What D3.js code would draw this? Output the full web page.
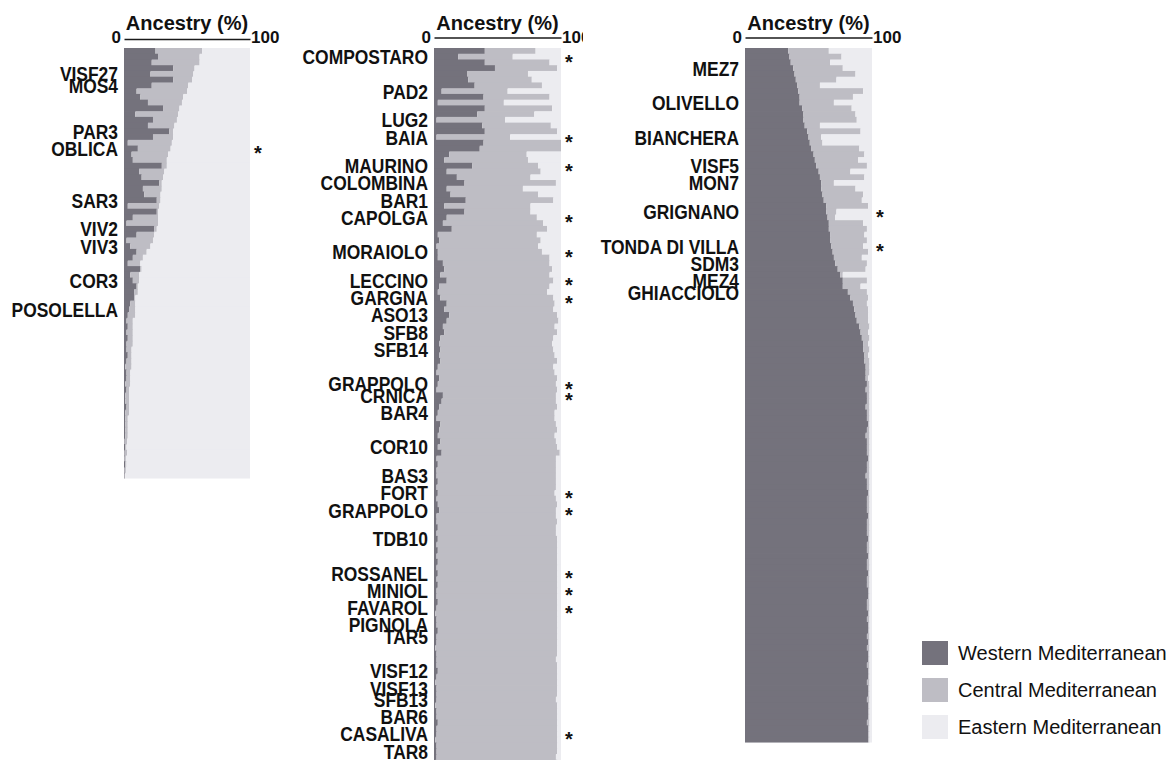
<!DOCTYPE html>
<html>
<head>
<meta charset="utf-8">
<script src="https://cdn.jsdelivr.net/npm/d3@7"></script>
<style>
  body { margin: 0; background: #ffffff; }
  svg { display: block; }
  text { font-family: "Liberation Sans", Arial, Helvetica, sans-serif; fill: #111; }
</style>
</head>
<body>
<svg id="chart" width="1172" height="760"></svg>
<script>
// ---- ancestry groups ----
const groups = ["Western Mediterranean", "Central Mediterranean", "Eastern Mediterranean"];
const groupColors = ["#74727c", "#bebdc4", "#ececf0"];

// ---- column 1: individuals sorted by Eastern ancestry (%) ----
const p1Western = [25,27,22,39,21,39,22,10,13,19,31,9,23,19,36,23,3,11,6,7,
  30,12,14,28,15,16,26,3,26,7,2,24,10,2,5,10,7,3,13,5,7,10,8,8,5,4,3,2,3,2,
  3,2,2,3,2,1,2,2,1,2,1,1,2,1,1,1,1,1,0.5,1,0.5,0.5,1,0.5,0.5];
const p1Central = [37,33,38,17,34,15,29,40,34,27,13,34,19,21,3,16,35,26,29,27,
  4,20,17,2,15,13,3,25,1,20,25,2,14,21,16,8,8,10,1,7,5,1,3,1,4,5,6,5,4,5,
  4,5,4,3,4,5,3,3,4,2,3,3,2,3,2,2,2,2,2,1,2,1,1,1,0.5];
const p1Eastern = [38,40,40,44,45,46,49,50,53,54,56,57,58,60,61,61,62,63,65,66,
  66,68,69,70,70,71,71,72,73,73,73,74,76,77,79,82,85,87,86,88,88,89,89,91,91,91,91,93,93,93,
  93,93,94,94,94,94,95,95,95,96,96,96,96,96,97,97,97,97,97.5,98,97.5,98.5,98,98.5,99];
const p1Names = ["VISF27","MOS4","PAR3","OBLICA","SAR3","VIV2","VIV3","COR3","POSOLELLA"];
const p1NameRows = [4,6,14,17,26,31,34,40,45];
const p1StarRows = [17];

// ---- column 2 ----
const p2Western = [40,19,40,48,26,27,32,6,39,3,40,34,2,38,40,2,39,36,12,8,30,10,18,
  24,10,13,25,8,24,10,7,14,3,4,2,3,3,7,8,5,10,4,3,5,10,8,12,10,7,8,5,4,5,4,5,3,2,4,
  3,2,7,6,4,3,2,5,4,3,5,3,6,2,3,2,2,3,2,3,2,3,4,2,2,3,2,3,2,3,2,3,2,3,
  2,3,2,2,3,2,1,2,2,3,2,2,1,2,2,2,3,2,1,2,2,2,1,2,2,3,2,2,1,2,2,2,1,2,2];
const p2Central = [40,43,51,49,48,50,53,52,52,52,53,45,54,54,57,58,61,64,61,66,52,74,58,
  72,60,69,69,68,52,71,79,75,78,80,80,82,88,84,85,86,84,87,86,89,85,86,85,88,88,89,89,89,89,91,92,91,93,93,
  93,95,89,90,93,92,93,91,93,92,91,94,93,94,93,94,94,93,94,92,94,94,92,94,95,93,94,94,95,94,95,94,95,94,
  95,94,95,95,94,95,96,95,95,94,95,95,96,95,94,95,94,95,96,95,95,94,96,95,95,94,95,95,96,95,95,94,96,95,95];
const p2Eastern = [20,38,9,3,26,23,15,42,9,45,7,21,44,8,3,40,0,0,27,26,18,16,24,
  4,30,18,6,24,24,19,14,11,19,16,18,15,9,9,7,9,6,9,11,6,5,6,3,2,5,3,6,7,6,5,3,6,5,3,
  4,3,4,4,3,5,5,4,3,5,4,3,1,4,4,4,4,4,4,5,4,3,4,4,3,4,4,3,3,3,3,3,3,3,
  3,3,3,3,3,3,3,3,3,3,3,3,3,3,4,3,3,3,3,3,3,4,3,3,3,3,3,3,3,3,3,4,3,3,3];
const p2Names = ["COMPOSTARO","PAD2","LUG2","BAIA","MAURINO","COLOMBINA","BAR1","CAPOLGA",
  "MORAIOLO","LECCINO","GARGNA","ASO13","SFB8","SFB14","GRAPPOLO","CRNICA","BAR4","COR10",
  "BAS3","FORT","GRAPPOLO","TDB10","ROSSANEL","MINIOL","FAVAROL","PIGNOLA","TAR5",
  "VISF12","VISF13","SFB13","BAR6","CASALIVA","TAR8"];
const p2NameRows = [1,7,12,15,20,23,26,29,35,40,43,46,49,52,58,60,63,69,74,77,80,85,
  91,94,97,100,102,108,111,113,116,119,122];
const p2StarRows = [1,15,20,29,35,40,43,58,60,77,80,91,94,97,119];

// ---- column 3 ----
const p3Western = [34,35,36,38,39,40,41,42,43,43,45,46,46,47,49,50,51,52,54,55,56,58,59,60,60,61,62,
  64,64,65,66,66,67,67,68,69,70,71,73,75,77,77,81,83,85,86,87,88,90,91,92,93,93,94,94,95,95,
  95,96,95,96,96,95,96,96,97,96,95,96,96,96,97,96,96,95,96,96,97,96,96,96,97,96,96,96,97,96,
  96,97,96,96,97,96,96,97,97,96,96,97,96,97,97,96,97,96,97,97,96,97,97,96,97,97,96,97,97,97,
  96,97,97,97];
const p3Central = [32,41,31,39,48,32,18,51,42,27,39,41,42,12,42,10,10,38,40,34,40,25,35,10,27,32,30,
  33,8,6,27,30,27,29,25,28,22,25,22,2,19,14,15,14,11,11,10,9,8,6,6,4,5,3,4,3,3,
  2,2,3,2,2,3,2,2,1,2,3,2,2,2,1,2,2,3,2,2,1,2,2,2,1,2,2,2,1,2,
  2,1,2,2,1,2,2,1,1,2,2,1,2,1,1,2,1,2,1,1,2,1,1,2,1,1,2,1,1,1,
  2,1,1,1];
const p3Eastern = [34,24,33,23,13,28,41,7,15,30,16,13,12,41,9,40,39,10,6,11,4,17,6,30,13,7,8,
  3,28,29,7,4,6,4,7,3,8,4,5,23,4,9,4,3,4,3,3,3,2,3,2,3,2,3,2,2,2,
  3,2,2,2,2,2,2,2,2,2,2,2,2,2,2,2,2,2,2,2,2,2,2,2,2,2,2,2,2,2,
  2,2,2,2,2,2,2,2,2,2,2,2,2,2,2,2,2,2,2,2,2,2,2,2,2,2,2,2,2,2,
  2,2,2,2];
const p3Names = ["MEZ7","OLIVELLO","BIANCHERA","VISF5","MON7","GRIGNANO","TONDA DI VILLA",
  "SDM3","MEZ4","GHIACCIOLO"];
const p3NameRows = [3,9,15,20,23,28,34,37,40,42];
const p3StarRows = [28,34];

// ---- layout ----
const svg = d3.select("#chart");
const rowHeight = 5.74;
const plotTop = 48;

const panels = [
  { left: 124, width: 126, axisY: 39, W: p1Western, C: p1Central, E: p1Eastern,
    names: p1Names, nameRows: p1NameRows, stars: p1StarRows, clipRight: null },
  { left: 434, width: 127, axisY: 37.5, W: p2Western, C: p2Central, E: p2Eastern,
    names: p2Names, nameRows: p2NameRows, stars: p2StarRows, clipRight: 583 },
  { left: 745, width: 127, axisY: 37.5, W: p3Western, C: p3Central, E: p3Eastern,
    names: p3Names, nameRows: p3NameRows, stars: p3StarRows, clipRight: null }
];

const keys = ["w", "c", "e"];
const stack = d3.stack().keys(keys);

panels.forEach((p, pi) => {
  const rows = p.W.map((w, i) => ({ i, w, c: p.C[i], e: p.E[i] }));
  const n = rows.length;

  const x = d3.scaleLinear().domain([0, 100]).range([p.left, p.left + p.width]);
  const y = d3.scaleBand().domain(d3.range(n)).range([plotTop, plotTop + n * rowHeight]).padding(0);
  const color = d3.scaleOrdinal().domain(keys).range(groupColors);

  const series = stack(rows);
  const g = svg.append("g").attr("class", "panel");

  // one group per individual, drawn top to bottom so each row slightly
  // overlaps the previous one and no hairline seams appear
  g.selectAll("g.row")
    .data(rows)
    .join("g")
      .attr("class", "row")
    .selectAll("rect")
    .data(r => series.map(s => ({ key: s.key, seg: s[r.i], i: r.i })))
    .join("rect")
      .attr("fill", d => color(d.key))
      .attr("x", d => x(d.seg[0]))
      .attr("y", d => y(d.i))
      .attr("width", d => Math.max(0, x(d.seg[1]) - x(d.seg[0])))
      .attr("height", d => y.bandwidth() + (d.i < n - 1 ? 0.8 : 0));

  // top axis: domain line only, with 0 and 100 at its ends
  const axisG = g.append("g")
    .attr("transform", `translate(0,${p.axisY})`)
    .call(d3.axisTop(x).tickValues([]).tickSizeOuter(0));
  axisG.select(".domain").attr("stroke", "#1a1a1a").attr("stroke-width", 1.6);

  let endG = g;
  if (p.clipRight !== null) {
    const cid = "clip" + pi;
    svg.append("clipPath").attr("id", cid)
      .append("rect").attr("x", 0).attr("y", 0).attr("width", p.clipRight).attr("height", 760);
    endG = g.append("g").attr("clip-path", `url(#${cid})`);
  }
  endG.append("text")
    .attr("x", x(0) - 3).attr("y", 43)
    .attr("text-anchor", "end")
    .attr("font-size", 17).attr("font-weight", "bold")
    .text("0");
  endG.append("text")
    .attr("x", x(100) + 1).attr("y", 43)
    .attr("text-anchor", "start")
    .attr("font-size", 17).attr("font-weight", "bold")
    .text("100");

  g.append("text")
    .attr("x", (x(0) + x(100)) / 2).attr("y", 30)
    .attr("text-anchor", "middle")
    .attr("font-size", 20).attr("font-weight", "bold")
    .text("Ancestry (%)");

  // cultivar labels on the left
  g.selectAll("text.name")
    .data(p.names.map((name, k) => ({ name, row: p.nameRows[k] })))
    .join("text")
      .attr("class", "name")
      .attr("transform", d => `translate(${x(0) - 6},${y(d.row) + y.bandwidth() / 2}) scale(0.83,1)`)
      .attr("text-anchor", "end")
      .attr("dy", "0.36em")
      .attr("font-size", 21).attr("font-weight", "bold")
      .text(d => d.name);

  // asterisks on the right
  g.selectAll("text.star")
    .data(p.stars)
    .join("text")
      .attr("class", "star")
      .attr("x", x(100) + 4)
      .attr("y", d => y(d) + y.bandwidth() / 2 + 12)
      .attr("font-size", 20).attr("font-weight", "bold")
      .text("*");
});

// ---- legend ----
const legend = svg.append("g").attr("class", "legend");
const legendY = d3.scalePoint().domain(groups).range([641, 715]);
legend.selectAll("rect")
  .data(groups)
  .join("rect")
    .attr("x", 922).attr("y", d => legendY(d))
    .attr("width", 26).attr("height", 24)
    .attr("fill", (d, i) => groupColors[i]);
legend.selectAll("text")
  .data(groups)
  .join("text")
    .attr("x", 958).attr("y", d => legendY(d) + 18.5)
    .attr("font-size", 20)
    .attr("fill", "#222")
    .text(d => d);
</script>
</body>
</html>
